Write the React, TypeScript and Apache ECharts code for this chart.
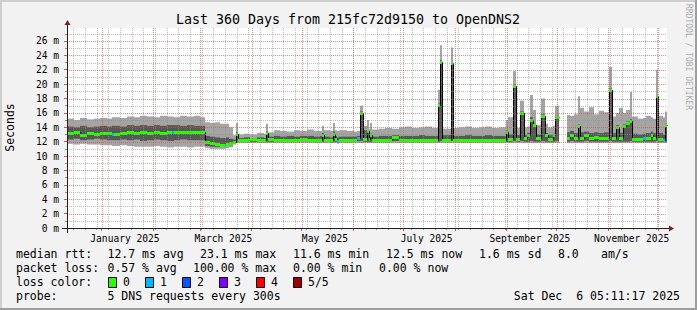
import React, { useEffect, useRef } from 'react';
import * as echarts from 'echarts';

// ---- time reference (graph end: Sat Dec 6 05:11:17 2025, range 360 days) ----
const START_MS = Date.UTC(2024, 11, 11, 5, 11, 17);
const DAY_MS = 86400000;
const RANGE_DAYS = 360;
const dayOf = (y: number, m: number, d: number) => (Date.UTC(y, m, d) - START_MS) / DAY_MS;

// ---- data buckets (day offset from start), values in ms ----
const bucketStart = [
  0, 4, 8, 12, 16, 20, 24, 27, 28, 32, 36, 40, 44, 48, 52, 56, 60, 63, 64, 68, 72, 76, 80,
  83, 86, 89, 92, 94.5, 95.5, 97, 99.5, 101.5,
  102.5, 106, 110, 114, 118, 119.5, 120.5, 124, 128, 132, 136, 140, 144, 148,
  152, 153, 154.3, 158, 159.7, 161, 161.8, 163.3, 168, 172, 174.2, 175.8, 177.4, 179.8, 181, 181.6,
  183, 187, 191, 195, 199, 203, 207, 211, 215, 219, 222.6, 223.6, 224.8, 230.2, 231.4,
  235, 239, 243, 247, 251, 255, 259, 263.5, 264.5, 267.5, 269.1, 271.9, 273.9, 275.9, 277.9,
  279.5, 281.1, 284.5, 286.6, 288.5, 291.5, 292.9, 295.2,
  300, 301.8, 304.2, 306.6, 307.8, 310.2, 313.2, 316.2, 319.2, 322.2, 325.2, 327, 329.4, 331.3,
  333.7, 335.5, 337.9, 339.1, 342.7, 345.7, 347.5, 350.5, 351.7, 353.6, 354.8, 357.8, 359,
];
const smokeHigh = [
  15.2, 15.0, 15.3, 15.1, 15.2, 15.3, 15.2, 15.4, 15.4, 15.3, 15.5, 15.4, 15.6, 15.5, 15.4, 15.6, 15.5, 15.5, 15.4, 15.6, 15.5, 15.6, 15.4,
  14.7, 14.6, 14.7, 14.5, 14.5, 14.5, 14.0, 12.9, 14.6,
  13.0, 13.1, 13.0, 13.2, 13.1, 14.5, 13.3, 13.6, 13.5, 13.4, 13.6, 13.5, 13.7, 13.5,
  13.5, 14.2, 13.6, 13.5, 14.6, 13.6, 13.5, 13.6, 13.5, 13.4, 13.5, 17.0, 14.2, 15.0, 13.8, 14.6,
  13.7, 13.8, 13.9, 13.8, 14.0, 14.1, 13.9, 14.0, 14.1, 13.9, 19.2, 25.4, 13.8, 25.1, 13.9,
  14.0, 14.1, 13.9, 14.0, 14.1, 13.9, 14.0, 15.0, 15.4, 21.8, 13.9, 17.7, 14.0, 14.1, 18.5,
  16.4, 14.3, 18.0, 14.5, 14.0, 14.2, 17.0, null,
  15.7, 15.6, 15.8, 18.3, 16.7, 16.2, 16.8, 15.8, 16.3, 16.1, 22.4, 15.5, 16.0, 16.7,
  16.0, 16.4, 18.9, 15.5, 15.2, 15.3, 15.6, 15.4, 15.2, 22.0, 15.6, 15.4, 16.2,
];
const coreHigh = [
  14.1, 14.0, 14.2, 14.0, 14.1, 14.2, 14.1, 14.2, 14.2, 14.1, 14.3, 14.2, 14.3, 14.2, 14.3, 14.2, 14.3, 14.3, 14.3, 14.2, 14.3, 14.2, 14.2,
  12.8, 12.7, 12.6, 12.5, 12.5, 12.6, 12.4, 12.3, 13.3,
  12.5, 12.6, 12.5, 12.6, 12.5, 13.4, 12.7, 12.8, 12.7, 12.8, 12.7, 12.8, 12.8, 12.7,
  12.8, 13.2, 12.7, 12.6, 13.4, 12.8, 12.6, 12.7, 12.7, 12.7, 12.8, 16.2, 13.6, 13.6, 12.9, 13.1,
  12.7, 12.8, 12.8, 12.9, 12.8, 12.8, 12.8, 12.9, 12.8, 12.8, 17.3, 23.3, 12.9, 23.0, 12.8,
  12.8, 12.9, 12.8, 12.8, 12.9, 12.8, 12.8, 13.6, 13.0, 19.9, 12.9, 16.2, 12.9, 13.2, 15.4,
  14.5, 13.0, 15.8, 13.2, 12.9, 13.1, 15.6, null,
  13.3, 13.5, 13.2, 14.4, 13.3, 13.4, 13.2, 13.3, 13.2, 13.3, 19.4, 13.2, 14.3, 13.2,
  14.4, 14.8, 15.1, 13.1, 13.0, 13.1, 13.2, 13.4, 13.2, 18.5, 13.2, 13.0, 14.5,
];
const coreLow = [
  12.3, 12.4, 12.2, 12.3, 12.4, 12.3, 12.2, 12.2, 12.2, 12.3, 12.2, 12.3, 12.1, 12.2, 12.3, 12.2, 12.1, 12.1, 12.2, 12.3, 12.2, 12.2, 12.2,
  11.4, 11.3, 11.3, 11.3, 11.3, 11.4, 11.5, 11.8, 12.0,
  12.0, 12.0, 12.0, 12.0, 12.0, 12.0, 12.0, 12.0, 12.0, 12.0, 12.0, 12.1, 12.0, 12.0,
  12.0, 12.0, 12.0, 11.9, 12.0, 12.0, 11.9, 12.0, 12.0, 12.0, 12.1, 12.1, 12.0, 12.0, 12.0, 12.0,
  12.0, 12.0, 12.0, 12.1, 12.0, 12.0, 12.0, 12.0, 12.0, 12.0, 12.0, 12.1, 12.0, 12.1, 12.0,
  12.0, 12.0, 12.0, 12.0, 12.0, 12.0, 12.0, 12.0, 12.0, 12.1, 12.0, 12.1, 12.0, 12.0, 12.1,
  12.0, 12.0, 12.1, 12.0, 12.0, 12.0, 12.1, null,
  12.0, 12.1, 12.0, 12.0, 12.0, 12.1, 12.0, 12.0, 12.0, 12.0, 12.1, 12.0, 12.0, 12.0,
  12.0, 12.0, 12.1, 12.0, 12.0, 12.0, 12.0, 12.0, 12.0, 12.1, 12.0, 12.0, 12.0,
];
const smokeLow = [
  11.7, 11.6, 11.7, 11.6, 11.6, 11.5, 11.5, 11.4, 11.4, 11.5, 11.4, 11.3, 11.3, 11.3, 11.4, 11.3, 11.2, 11.2, 11.3, 11.3, 11.2, 11.3, 11.3,
  11.1, 11.0, 11.0, 11.0, 11.0, 11.1, 11.2, 11.6, 11.8,
  11.8, 11.8, 11.8, 11.8, 11.8, 11.8, 11.8, 11.8, 11.8, 11.8, 11.8, 11.8, 11.8, 11.8,
  11.8, 11.8, 11.8, 11.8, 11.8, 11.8, 11.7, 11.8, 11.8, 11.8, 11.8, 11.8, 11.8, 11.8, 11.8, 11.8,
  11.8, 11.8, 11.8, 11.8, 11.8, 11.8, 11.8, 11.8, 11.8, 11.8, 11.8, 11.8, 11.8, 11.8, 11.8,
  11.8, 11.8, 11.8, 11.8, 11.8, 11.8, 11.8, 11.8, 11.8, 11.8, 11.8, 11.8, 11.8, 11.8, 11.8,
  11.8, 11.8, 11.8, 11.8, 11.8, 11.8, 11.8, null,
  11.8, 11.8, 11.8, 11.8, 11.8, 11.8, 11.8, 11.8, 11.8, 11.8, 11.8, 11.8, 11.8, 11.8,
  11.8, 11.8, 11.8, 11.8, 11.8, 11.8, 11.8, 11.8, 11.8, 11.8, 11.8, 11.8, 11.8,
];
const medianRtt = [
  13.2, 13.3, 12.9, 13.2, 13.1, 13.2, 13.2, 13.0, 13.1, 13.2, 13.3, 13.2, 13.3, 13.2, 13.3, 13.2, 13.4, 13.3, 13.3, 13.4, 13.3, 13.3, 13.4,
  11.9, 11.8, 11.65, 11.6, 11.6, 11.7, 11.8, 12.0, 13.0,
  12.3, 12.3, 12.35, 12.3, 12.3, 13.2, 12.4, 12.3, 12.2, 12.3, 12.3, 12.35, 12.3, 12.2,
  12.3, 12.9, 12.2, 12.2, 13.1, 12.4, 12.1, 12.3, 12.3, 12.3, 12.45, 16.0, 12.4, 13.5, 12.4, 12.95,
  12.3, 12.25, 12.3, 12.6, 12.3, 12.2, 12.3, 12.25, 12.3, 12.3, 17.1, 23.1, 12.3, 22.9, 12.3,
  12.25, 12.3, 12.3, 12.25, 12.3, 12.3, 12.3, 13.4, 12.4, 19.8, 12.4, 16.0, 12.5, 12.95, 15.0,
  14.3, 12.5, 15.6, 12.95, 12.4, 12.9, 15.4, null,
  12.5, 12.9, 12.5, 14.2, 12.5, 12.9, 12.5, 12.6, 12.5, 12.5, 19.2, 12.5, 14.1, 12.5,
  14.2, 14.6, 14.9, 12.4, 12.4, 12.45, 12.5, 12.95, 12.5, 18.3, 12.4, 12.3, 14.3,
];
const lossLevel = [
  0, 0, 0, 0, 0, 0, 0, 1, 0, 0, 0, 0, 0, 0, 0, 0, 0, 1, 0, 0, 0, 0, 0,
  0, 0, 0, 0, 1, 0, 0, 0, 0,
  0, 0, 0, 0, 0, 0, 0, 0, 0, 0, 0, 0, 0, 0,
  0, 0, 0, 0, 0, 0, 1, 0, 0, 0, 1, 0, 0, 0, 0, 0,
  0, 0, 0, 0, 0, 0, 0, 0, 0, 0, 0, 0, 0, 0, 0,
  0, 0, 0, 0, 0, 0, 0, 0, 0, 0, 0, 0, 0, 0, 0,
  0, 0, 0, 0, 0, 0, 0, 0,
  0, 0, 0, 0, 0, 0, 0, 0, 0, 0, 0, 0, 0, 0,
  0, 0, 0, 0, 0, 1, 0, 0, 0, 0, 0, 1, 0,
];

// ---- axis ticks / labels ----
const yMajorTicks = [0, 2, 4, 6, 8, 10, 12, 14, 16, 18, 20, 22, 24, 26];
const yMinorTicks = [1, 3, 5, 7, 9, 11, 13, 15, 17, 19, 21, 23, 25, 27];
const Y_MAX = 27.8;
const labelMonths = [0, 2, 4, 6, 8, 10];
const labelTexts = ['January 2025', 'March 2025', 'May 2025', 'July 2025', 'September 2025', 'November 2025'];
const gridMonths = [0, 1, 2, 3, 4, 5, 6, 7, 8, 9, 10, 11];

// ---- legend ----
const lossColors = ['#26ff00', '#00b8ff', '#0059ff', '#7e00ff', '#ff0000', '#a10000'];
const lossNames = ['0', '1', '2', '3', '4', '5/5'];
const rttStats = ['12.7 ms avg', '23.1 ms max', '11.6 ms min', '12.5 ms now', '1.6 ms sd', '8.0', 'am/s'];
const lossStats = ['0.57 % avg', '100.00 % max', '0.00 % min', '0.00 % now'];
const titleText = 'Last 360 Days from 215fc72d9150 to OpenDNS2';
const probeText = '5 DNS requests every 300s';
const dateText = 'Sat Dec  6 05:11:17 2025';

const MONO = '"DejaVu Sans Mono", monospace';
const MINOR_GRID = 'rgba(143,143,143,0.6)';
const MAJOR_GRID = 'rgba(222,79,79,0.65)';

export default function App() {
  const ref = useRef<HTMLDivElement>(null);

  useEffect(() => {
    document.body.style.margin = '0';
    if (!ref.current) return;
    const chart = echarts.init(ref.current, undefined, { renderer: 'svg' });

    const weekDays: number[] = [];
    for (let d = dayOf(2024, 11, 15); d < RANGE_DAYS; d += 7) weekDays.push(d);
    const monthDays = gridMonths.map((m) => dayOf(2025, m, 1));
    const labelDays = labelMonths.map((m) => dayOf(2025, m, 15));

    const buckets: any[] = [];
    for (let i = 0; i < bucketStart.length; i++) {
      if (medianRtt[i] == null) continue;
      const end = i + 1 < bucketStart.length ? bucketStart[i + 1] : RANGE_DAYS;
      const prev = i > 0 && medianRtt[i - 1] != null ? medianRtt[i - 1] : medianRtt[i];
      buckets.push([bucketStart[i], end, smokeLow[i], coreLow[i], coreHigh[i], smokeHigh[i], medianRtt[i], prev, lossLevel[i]]);
    }

    // grid line items: [value, isMajor]
    const vGrid = [...weekDays.map((d) => [d, 0]), ...monthDays.map((d) => [d, 1])];
    const hGrid = [...yMinorTicks.map((v) => [v, 0]), ...yMajorTicks.filter((v) => v > 0).map((v) => [v, 1])];

    const px = (api: any, d: number) => Math.round(api.coord([d, 0])[0]);
    const py = (api: any, v: number) => api.coord([0, v])[1];

    const option: any = {
      animation: false,
      backgroundColor: '#f2f2f2',
      grid: { left: 67, right: 30, top: 28, bottom: 82, show: true, backgroundColor: '#ffffff', borderWidth: 0 },
      xAxis: [
        {
          type: 'value', min: 0, max: RANGE_DAYS, position: 'bottom',
          axisLine: { show: false }, axisLabel: { show: false }, splitLine: { show: false },
          axisTick: { show: true, customValues: weekDays, length: 2, lineStyle: { color: '#8f8f8f' } },
        },
        {
          type: 'value', min: 0, max: RANGE_DAYS, position: 'bottom',
          axisLine: { show: false }, axisLabel: { show: false }, splitLine: { show: false },
          axisTick: { show: true, customValues: monthDays, length: 3, lineStyle: { color: '#de4f4f' } },
        },
        {
          type: 'value', min: 0, max: RANGE_DAYS, position: 'bottom',
          axisLine: { show: false }, splitLine: { show: false },
          axisTick: { show: false, customValues: labelDays },
          axisLabel: {
            show: true, customValues: labelDays, margin: 5,
            fontFamily: MONO, fontSize: 9.6, color: '#000',
            formatter: (v: number) => {
              let best = 0;
              labelDays.forEach((d, i) => { if (Math.abs(d - v) < Math.abs(labelDays[best] - v)) best = i; });
              return labelTexts[best];
            },
          },
        },
      ],
      yAxis: [
        {
          type: 'value', min: 0, max: Y_MAX, position: 'left',
          axisLine: { show: false }, axisLabel: { show: false }, splitLine: { show: false },
          axisTick: { show: true, customValues: yMinorTicks, length: 2, lineStyle: { color: '#8f8f8f' } },
        },
        {
          type: 'value', min: 0, max: Y_MAX, position: 'left',
          axisLine: { show: false }, splitLine: { show: false },
          axisTick: { show: true, customValues: yMajorTicks, length: 3, lineStyle: { color: '#de4f4f' } },
          axisLabel: {
            show: true, customValues: yMajorTicks, margin: 8,
            fontFamily: MONO, fontSize: 9.6, color: '#000',
            formatter: (v: number) => `${v} m`,
          },
        },
      ],
      series: [
        {
          type: 'custom', name: 'smoke', xAxisIndex: 0, yAxisIndex: 0, z: 2, silent: true,
          encode: { x: [0, 1], y: [2, 5] },
          data: buckets,
          renderItem: (_p: any, api: any) => {
            const x0 = px(api, api.value(0));
            const x1 = px(api, api.value(1));
            const w = Math.max(1, x1 - x0);
            const yLo = py(api, api.value(2));
            const ycLo = py(api, api.value(3));
            const ycHi = py(api, api.value(4));
            const yHi = py(api, api.value(5));
            return {
              type: 'group',
              children: [
                { type: 'rect', shape: { x: x0, y: yHi, width: w, height: yLo - yHi }, style: { fill: '#a4a4a4' } },
                { type: 'rect', shape: { x: x0, y: ycHi, width: w, height: ycLo - ycHi }, style: { fill: '#585858' } },
              ],
            };
          },
        },
        {
          type: 'custom', name: 'median', xAxisIndex: 0, yAxisIndex: 0, z: 3, silent: true,
          encode: { x: [0, 1], y: [6] },
          data: buckets,
          renderItem: (_p: any, api: any) => {
            const x0 = px(api, api.value(0)) + 0.5;
            const x1 = px(api, api.value(1)) + 0.5;
            const ym = Math.round(py(api, api.value(6))) + 0.5;
            const yp = Math.round(py(api, api.value(7))) + 0.5;
            return {
              type: 'polyline',
              shape: { points: [[x0, yp], [x0, ym], [x1, ym]] },
              style: { stroke: '#000000', lineWidth: 1, fill: null },
            };
          },
        },
        {
          type: 'custom', name: 'loss', xAxisIndex: 0, yAxisIndex: 0, z: 4, silent: true,
          encode: { x: [0, 1], y: [6] },
          data: buckets,
          renderItem: (_p: any, api: any) => {
            const x0 = px(api, api.value(0));
            const x1 = px(api, api.value(1));
            const ym = Math.round(py(api, api.value(6)));
            return {
              type: 'rect',
              shape: { x: x0, y: ym - 1, width: Math.max(1, x1 - x0), height: 3 },
              style: { fill: lossColors[api.value(8)] },
            };
          },
        },
        {
          type: 'custom', name: 'vgrid', xAxisIndex: 0, yAxisIndex: 0, z: 5, silent: true,
          encode: { x: [0] },
          data: vGrid,
          renderItem: (p: any, api: any) => {
            const cs = p.coordSys;
            const x = px(api, api.value(0)) + 0.5;
            return {
              type: 'line',
              shape: { x1: x, y1: cs.y, x2: x, y2: cs.y + cs.height },
              style: { stroke: api.value(1) ? MAJOR_GRID : MINOR_GRID, lineWidth: 1, lineDash: [1, 1] },
              z2: api.value(1) ? 2 : 1,
            };
          },
        },
        {
          type: 'custom', name: 'hgrid', xAxisIndex: 0, yAxisIndex: 0, z: 5, silent: true,
          encode: { y: [0] },
          data: hGrid,
          renderItem: (p: any, api: any) => {
            const cs = p.coordSys;
            const y = Math.round(py(api, api.value(0))) + 0.5;
            return {
              type: 'line',
              shape: { x1: cs.x, y1: y, x2: cs.x + cs.width, y2: y },
              style: { stroke: api.value(1) ? MAJOR_GRID : MINOR_GRID, lineWidth: 1, lineDash: [1, 1] },
              z2: api.value(1) ? 2 : 1,
            };
          },
        },
      ],
      graphic: [
        // frame
        { type: 'rect', shape: { x: 0, y: 0, width: 697, height: 2 }, style: { fill: '#cfcfcf' }, silent: true },
        { type: 'rect', shape: { x: 0, y: 0, width: 2, height: 310 }, style: { fill: '#cfcfcf' }, silent: true },
        { type: 'rect', shape: { x: 0, y: 308, width: 697, height: 2 }, style: { fill: '#9e9e9e' }, silent: true },
        { type: 'rect', shape: { x: 695, y: 0, width: 2, height: 310 }, style: { fill: '#9e9e9e' }, silent: true },
        // axes
        { type: 'line', z: 50, shape: { x1: 62, y1: 228.5, x2: 670, y2: 228.5 }, style: { stroke: '#1f1f1f', lineWidth: 1 }, silent: true },
        { type: 'polygon', z: 50, shape: { points: [[669, 225.5], [674, 228.5], [669, 231.5]] }, style: { fill: '#801f1f' }, silent: true },
        { type: 'line', z: 50, shape: { x1: 67.5, y1: 233, x2: 67.5, y2: 24 }, style: { stroke: '#1f1f1f', lineWidth: 1 }, silent: true },
        { type: 'polygon', z: 50, shape: { points: [[64.5, 25], [67.5, 20], [70.5, 25]] }, style: { fill: '#801f1f' }, silent: true },
        // title
        { type: 'text', x: 348, y: 19, silent: true,
          style: { text: titleText, font: `13.3px ${MONO}`, fill: '#000', align: 'center', verticalAlign: 'middle' } },
        // watermark
        { type: 'text', x: 688, y: 4, rotation: -Math.PI / 2, silent: true,
          style: { text: 'RRDTOOL / TOBI OETIKER', font: `8px ${MONO}`, fill: '#ababab', align: 'left', verticalAlign: 'middle' } },
        // y axis title
        { type: 'text', x: 10, y: 127.5, rotation: Math.PI / 2, silent: true,
          style: { text: 'Seconds', font: `11.5px ${MONO}`, fill: '#000', align: 'center', verticalAlign: 'middle' } },
        // legend rows
        { type: 'text', x: 16, y: 254, silent: true, style: { text: 'median rtt:', font: `11.5px ${MONO}`, fill: '#000', verticalAlign: 'middle' } },
        ...rttStats.map((t, i) => ({ type: 'text', x: [107.5, 200, 293, 386, 479, 558, 601][i], y: 254, silent: true,
          style: { text: t, font: `11.5px ${MONO}`, fill: '#000', verticalAlign: 'middle' } })),
        { type: 'text', x: 16, y: 268, silent: true, style: { text: 'packet loss:', font: `11.5px ${MONO}`, fill: '#000', verticalAlign: 'middle' } },
        ...lossStats.map((t, i) => ({ type: 'text', x: [107.5, 193, 293, 379][i], y: 268, silent: true,
          style: { text: t, font: `11.5px ${MONO}`, fill: '#000', verticalAlign: 'middle' } })),
        { type: 'text', x: 16, y: 282, silent: true, style: { text: 'loss color:', font: `11.5px ${MONO}`, fill: '#000', verticalAlign: 'middle' } },
        ...lossColors.map((c, i) => ({ type: 'rect', silent: true,
          shape: { x: 108.5 + i * 37, y: 277.5, width: 8, height: 10 }, style: { fill: c, stroke: '#000', lineWidth: 1 } })),
        ...lossNames.map((t, i) => ({ type: 'text', x: 123 + i * 37, y: 282, silent: true,
          style: { text: t, font: `11.5px ${MONO}`, fill: '#000', verticalAlign: 'middle' } })),
        { type: 'text', x: 16, y: 296, silent: true, style: { text: 'probe:', font: `11.5px ${MONO}`, fill: '#000', verticalAlign: 'middle' } },
        { type: 'text', x: 107.5, y: 296, silent: true, style: { text: probeText, font: `11.5px ${MONO}`, fill: '#000', verticalAlign: 'middle' } },
        { type: 'text', x: 680, y: 296, silent: true, style: { text: dateText, font: `11.5px ${MONO}`, fill: '#000', align: 'right', verticalAlign: 'middle' } },
      ],
    };

    chart.setOption(option);
    return () => chart.dispose();
  }, []);

  return <div ref={ref} style={{ width: 697, height: 310 }} />;
}
